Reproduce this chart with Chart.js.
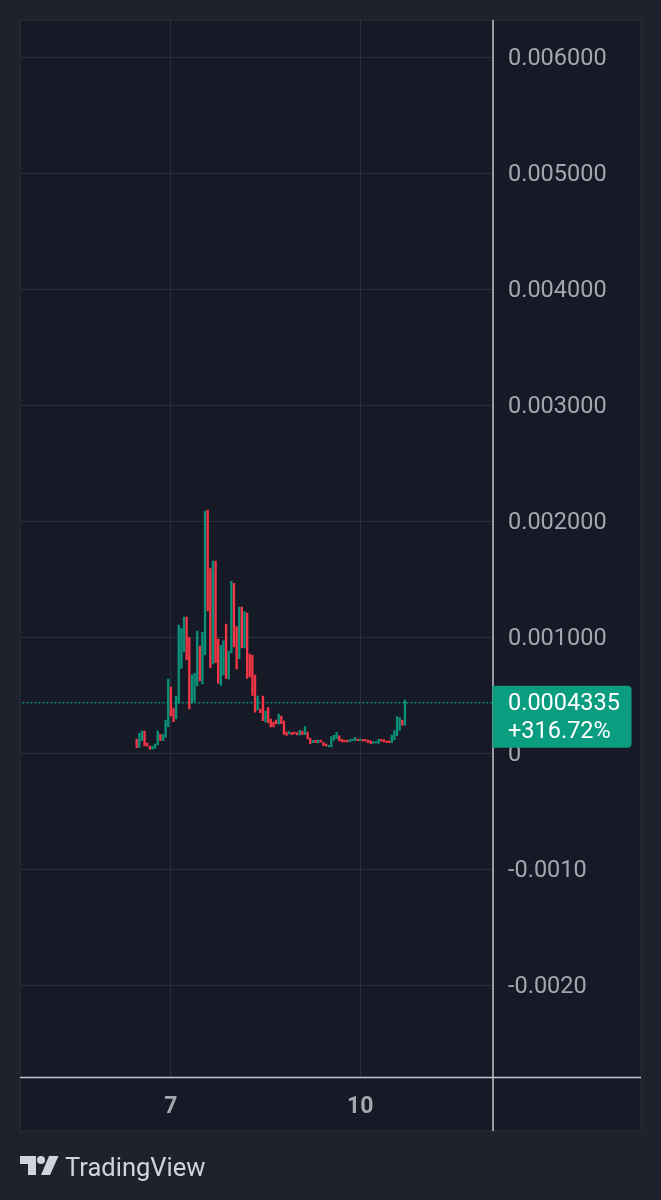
<!DOCTYPE html>
<html>
<head>
<meta charset="utf-8">
<title>TradingView chart</title>
<script src="https://cdn.jsdelivr.net/npm/chart.js"></script>
<style>
  html, body { margin: 0; padding: 0; background: #1e222d; }
  #wrap { position: relative; width: 661px; height: 1200px; overflow: hidden; }
  #chart { position: absolute; left: 0; top: 0; }
  #logo { position: absolute; left: 20px; top: 1155px; }
  #brand { position: absolute; left: 65px; top: 1152px; font: 25.5px/30px Roboto, sans-serif; color: #d1d4dc; }
</style>
</head>
<body>
<div id="wrap">
  <canvas id="chart" width="661" height="1200"></canvas>
  <svg id="logo" width="39" height="20" viewBox="0 0 39 20">
    <path fill="#d1d4dc" d="M0 1H16V20H8V9H0Z"/>
    <circle fill="#d1d4dc" cx="21" cy="5" r="4"/>
    <path fill="#d1d4dc" d="M29 1H38.500L30 20H21Z"/>
  </svg>
  <div id="brand">TradingView</div>
</div>
<script>
// Candle bodies, in millionths of a price unit
const opens = [121,49,106,190,86,60,34,40,69,161,106,135,227,569,388,293,428,730,871,1172,994,428,445,578,922,595,845,2095,1589,767,1655,983,583,672,1112,638,865,1463,1089,813,1259,905,1207,853,842,672,371,379,491,267,391,293,267,284,250,319,276,181,164,175,181,175,155,190,158,181,126,89,109,86,112,92,78,52,52,109,124,147,118,112,112,95,106,106,121,106,118,118,112,106,83,86,83,118,115,106,106,89,112,149,195,284,241];
const closes = [46,170,190,60,60,34,60,78,190,106,158,284,638,319,270,491,1103,1075,1172,802,379,672,687,1052,621,1043,2086,1224,736,1655,779,603,928,968,644,879,1480,914,724,1259,905,1216,644,655,497,353,491,348,279,362,259,224,224,250,336,253,161,152,184,158,164,158,195,158,227,121,80,109,89,112,95,63,60,66,141,152,178,106,95,95,95,115,121,135,106,121,103,103,89,80,98,98,118,103,95,89,89,155,193,313,305,241,457];
const lastPrice = 0.0004335;

// Time axis: one bar per hour, day labels on bars 13 and 85
const dayTicks = [13, 85];
const dayLabels = ["7", "10"];

// Price axis
const priceTicks = [0.006, 0.005, 0.004, 0.003, 0.002, 0.001, 0, -0.001, -0.002];
const priceLabels = ["0.006000", "0.005000", "0.004000", "0.003000", "0.002000", "0.001000", "0", "-0.0010", "-0.0020"];

const lastLabel = "0.0004335";
const changeLabel = "+316.72%";

const UP = "#0a8f78";
const DOWN = "#f23645";
const PANE = "#161926";
const GRID = "#2b2e3b";
const AXIS = "#c3c6ce";
const TEXT = "#a4a7b0";

const candles = opens.map((o, i) => ({ x: i, y: [o * 1e-6, closes[i] * 1e-6] }));
const colors = opens.map((o, i) => (closes[i] >= o ? UP : DOWN));

// Pane background goes under everything
const panePlugin = {
  id: "pane",
  beforeDraw(chart) {
    const c = chart.ctx;
    c.fillStyle = PANE;
    c.fillRect(20, 20, 621, 1111);
    c.strokeStyle = GRID;
    c.lineWidth = 1;
    c.strokeRect(20, 20, 621, 1111);
  }
};

// Price labels, axis separators and the last price tag go on top.
// The labels sit 2px under their grid line, which tick options cannot do.
const tagPlugin = {
  id: "tag",
  afterDraw(chart) {
    const c = chart.ctx;
    const area = chart.chartArea;
    const yScale = chart.scales.y;
    const y = yScale.getPixelForValue(lastPrice);

    c.fillStyle = TEXT;
    c.font = "23.5px Roboto, sans-serif";
    c.textAlign = "left";
    c.textBaseline = "middle";
    priceTicks.forEach((v, i) => {
      c.fillText(priceLabels[i], 508, yScale.getPixelForValue(v) + 2);
    });

    c.strokeStyle = AXIS;
    c.lineWidth = 1.5;
    c.beginPath();
    c.moveTo(20, area.bottom - 0.5);
    c.lineTo(641, area.bottom - 0.5);
    c.moveTo(area.right + 0.5, 20);
    c.lineTo(area.right + 0.5, 1131);
    c.stroke();

    c.fillStyle = "#0a9d80";
    c.beginPath();
    c.roundRect(area.right, y - 17, 139, 62, [0, 4, 4, 0]);
    c.fill();

    c.fillStyle = "#ffffff";
    c.fillText(lastLabel, 508, y + 1);
    c.fillText(changeLabel, 508, y + 29.5);
  }
};

new Chart(document.getElementById("chart"), {
  data: {
    datasets: [
      {
        type: "bar",
        data: candles,
        backgroundColor: colors,
        barThickness: 1.7,
        borderSkipped: false
      },
      {
        type: "line",
        data: [{ x: -45, y: lastPrice }, { x: 136, y: lastPrice }],
        borderColor: UP,
        borderWidth: 1.5,
        borderDash: [2, 2],
        pointRadius: 0
      }
    ]
  },
  options: {
    responsive: false,
    animation: false,
    devicePixelRatio: 1,
    layout: { padding: { left: 20, top: 20, right: 20, bottom: 69 } },
    plugins: { legend: { display: false }, tooltip: { enabled: false } },
    scales: {
      x: {
        type: "linear",
        offset: false,
        min: -44.37,
        max: 135.3,
        afterFit(scale) {
          scale.height = 53;
          scale.paddingLeft = 0;
          scale.paddingRight = 0;
        },
        afterBuildTicks(scale) { scale.ticks = dayTicks.map(v => ({ value: v })); },
        grid: { color: GRID, drawTicks: false, offset: false },
        border: { display: false },
        ticks: {
          autoSkip: false,
          maxRotation: 0,
          padding: 15,
          color: TEXT,
          font: { family: "Roboto", size: 23, weight: "700" },
          callback: v => dayLabels[dayTicks.indexOf(v)]
        }
      },
      y: {
        position: "right",
        min: -0.0028017,
        max: 0.0063190,
        afterFit(scale) {
          scale.width = 148.5;
          scale.paddingTop = 0;
          scale.paddingBottom = 0;
        },
        afterBuildTicks(scale) { scale.ticks = priceTicks.map(v => ({ value: v })); },
        grid: { color: GRID, drawTicks: false },
        border: { display: false },
        ticks: { display: false }
      }
    }
  },
  plugins: [panePlugin, tagPlugin]
});
</script>
</body>
</html>
